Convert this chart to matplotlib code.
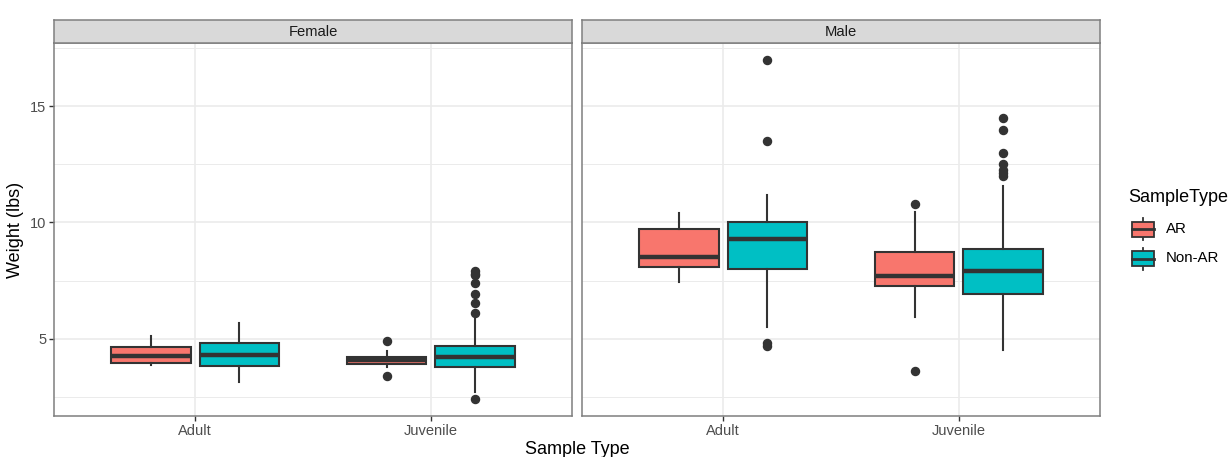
import numpy as np
import matplotlib.pyplot as plt
from matplotlib.patches import Rectangle
from matplotlib.lines import Line2D

plt.rcParams['font.family'] = ['Liberation Sans', 'DejaVu Sans']

# Datos: [edad][grupo]
sexes = ["Female", "Male"]
ages = ["Adult", "Juvenile"]
groups = ["AR", "Non-AR"]
colors = ["#F8766D", "#00BFC4"]

female_med = [[4.28, 4.33], [4.10, 4.24]]
female_q1 = [[3.96, 3.85], [3.91, 3.81]]
female_q3 = [[4.67, 4.84], [4.21, 4.71]]
female_lo = [[3.86, 3.14], [3.78, 2.74]]
female_hi = [[5.12, 5.70], [4.50, 5.95]]
female_out = [[[], []],
              [[4.91, 3.41], [7.93, 7.79, 7.75, 7.42, 6.93, 6.53, 6.13, 2.42]]]

male_med = [[8.52, 9.29], [7.72, 7.92]]
male_q1 = [[8.09, 8.02], [7.29, 6.91]]
male_q3 = [[9.71, 10.0], [8.72, 8.85]]
male_lo = [[7.43, 5.53], [5.93, 4.53]]
male_hi = [[10.39, 11.17], [10.46, 11.57]]
male_out = [[[], [16.97, 13.5, 4.81, 4.70]],
            [[10.8, 3.63], [14.49, 13.98, 12.98, 12.5, 12.27, 12.11, 12.0]]]

panel_data = {
    "Female": (female_med, female_q1, female_q3, female_lo, female_hi, female_out),
    "Male": (male_med, male_q1, male_q3, male_lo, male_hi, male_out),
}

W, H = 1231, 457
DARK = "#333333"
GRID = "#EBEBEB"
BORDER = "#7F7F7F"


def px_axes(fig, x0, y0, x1, y1):
    # Crea ejes a partir de coordenadas en píxeles (origen arriba a la izquierda)
    return fig.add_axes([x0 / W, 1 - y1 / H, (x1 - x0) / W, (y1 - y0) / H])


fig = plt.figure(figsize=(W / 100, H / 100), dpi=100)

panels_px = [(54, 572), (582, 1100)]
top_px, bottom_px, strip_top = 42.7, 416, 20

for i, sex in enumerate(sexes):
    x0, x1 = panels_px[i]
    ax = px_axes(fig, x0, top_px, x1, bottom_px)
    med, q1, q3, lo, hi, out = panel_data[sex]

    for a in range(len(ages)):
        for g in range(len(groups)):
            stats = [dict(med=med[a][g], q1=q1[a][g], q3=q3[a][g],
                          whislo=lo[a][g], whishi=hi[a][g], fliers=out[a][g])]
            pos = a + 1 + (g - 0.5) * 0.375
            ax.bxp(stats, positions=[pos], widths=0.3375, patch_artist=True,
                   showcaps=False,
                   boxprops=dict(facecolor=colors[g], edgecolor=DARK, linewidth=1.5),
                   medianprops=dict(color=DARK, linewidth=3.2, solid_capstyle='butt'),
                   whiskerprops=dict(color=DARK, linewidth=1.5),
                   flierprops=dict(marker='o', markerfacecolor=DARK, markeredgecolor=DARK,
                                   markersize=5.8),
                   zorder=3)

    ax.set_xlim(0.4, 2.6)
    ax.set_ylim(1.69, 17.72)
    ax.set_xticks([1, 2])
    ax.set_xticklabels(ages)
    ax.set_yticks([5, 10, 15])
    ax.set_yticks([2.5, 7.5, 12.5, 17.5], minor=True)
    ax.grid(True, which='major', color=GRID, linewidth=1.2, zorder=0)
    ax.grid(True, which='minor', color=GRID, linewidth=0.7, zorder=0)
    ax.set_axisbelow(True)
    ax.tick_params(axis='both', which='major', length=3.5, width=1, color=DARK,
                   labelcolor="#4D4D4D", labelsize=10.5, pad=2)
    ax.tick_params(axis='both', which='minor', length=0)
    for s in ax.spines.values():
        s.set_color(BORDER)
        s.set_linewidth(1.1)
    if i == 1:
        ax.tick_params(axis='y', which='major', length=0, labelleft=False)

    # Tira con el nombre del panel
    st = px_axes(fig, x0, strip_top, x1, top_px)
    st.set_facecolor("#D9D9D9")
    st.set_xticks([])
    st.set_yticks([])
    for s in st.spines.values():
        s.set_color(BORDER)
        s.set_linewidth(1.1)
    st.text(0.5, 0.48, sex, ha='center', va='center', fontsize=10.6, color="#1A1A1A",
            transform=st.transAxes)

fig.text(577 / W, 1 - 449 / H, "Sample Type", ha='center', va='center', fontsize=13)
fig.text(16 / W, 1 - 230 / H, "Weight (lbs)", ha='center', va='center', fontsize=13,
         rotation=90)

# Leyenda dibujada a mano en coordenadas de píxel
lg = fig.add_axes([0, 0, 1, 1], zorder=5)
lg.set_xlim(0, W)
lg.set_ylim(H, 0)
lg.axis('off')
lg.text(1128, 197, "SampleType", ha='left', va='center', fontsize=13)
for k, (name, c) in enumerate(zip(groups, colors)):
    cy = 229 + k * 29.5
    lg.add_line(Line2D([1142.5, 1142.5], [cy - 11, cy + 11], color=DARK, linewidth=1.3,
                       zorder=1))
    lg.add_patch(Rectangle((1131.5, cy - 7.5), 22, 15, facecolor=c, edgecolor=DARK,
                           linewidth=1.3, zorder=2))
    lg.add_line(Line2D([1131.5, 1153.5], [cy, cy], color=DARK, linewidth=2.0, zorder=3))
    lg.text(1166, cy, name, ha='left', va='center', fontsize=10.8)

fig.savefig("out.png", dpi=100)
